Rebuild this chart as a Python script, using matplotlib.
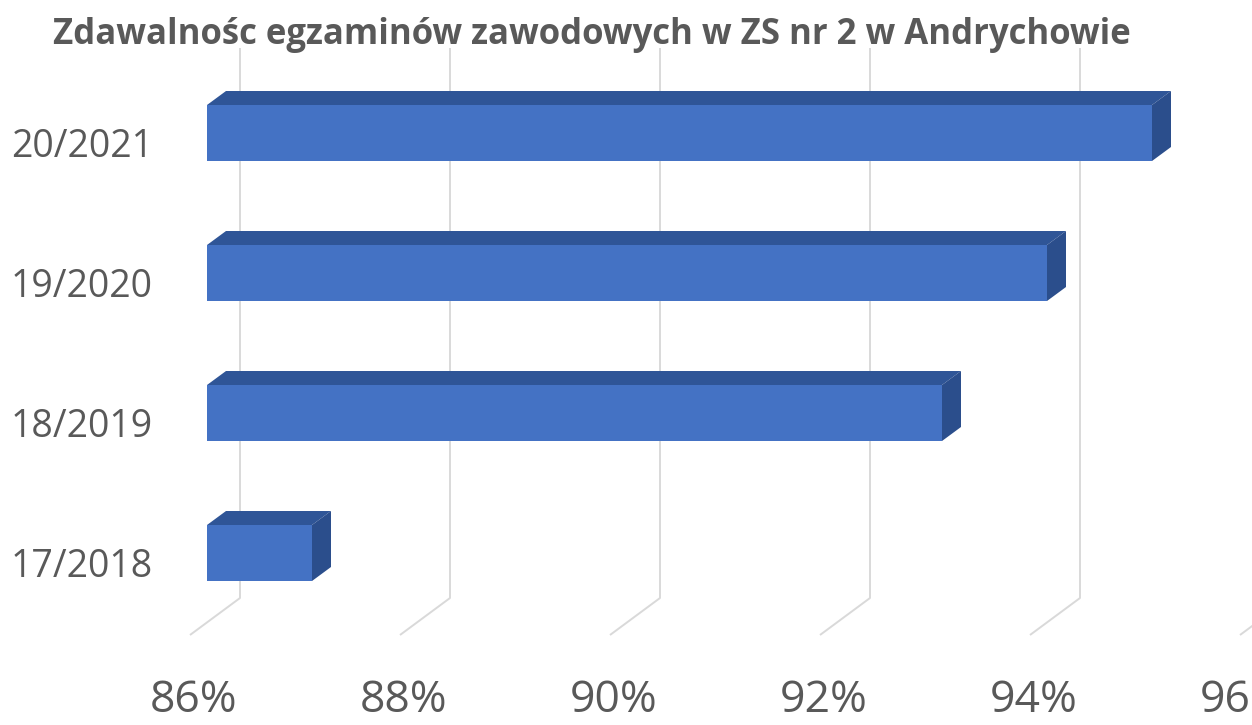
import numpy as np
import matplotlib
matplotlib.use("Agg")
import matplotlib.pyplot as plt
from matplotlib.patches import Polygon

# data
categories = ["17/2018", "18/2019", "19/2020", "20/2021"]
values = [87, 93, 94, 95]
ticks = [86, 88, 90, 92, 94, 96]
tick_labels = ["86%", "88%", "90%", "92%", "94%", "96%"]
title = "Zdawalnośc egzaminów zawodowych w ZS nr 2 w Andrychowie"

BASE = 86
FRONT = "#4472C4"
TOP = "#2F5597"
SIDE = "#2B4E8C"
GRID = "#D9D9D9"
TEXT = "#595959"

W, H = 1252, 725
fig = plt.figure(figsize=(W / 100, H / 100), dpi=100)
ax = fig.add_axes([0, 0, 1, 1])
ax.set_xlim(BASE - 207 / 105, BASE + (W - 207) / 105)
ax.set_ylim((553 - H) / 140, 553 / 140)
ax.axis("off")

# oblique depth offsets (value units / category units)
bar_dx, bar_dy = 19 / 105, 0.1
back_dx, front_dx = 33 / 105, -17 / 105
y_top, y_back_bot, y_front_bot = (553 - 48) / 140, (553 - 598) / 140, (553 - 635) / 140

# gridlines: back wall vertical + floor slant
for t in ticks:
    ax.plot([t + back_dx, t + back_dx, t + front_dx],
            [y_top, y_back_bot, y_front_bot],
            color=GRID, lw=1.4, zorder=1, solid_capstyle="butt")

pos = np.arange(len(categories))
h = 0.4
ax.barh(pos, np.array(values) - BASE, left=BASE, height=h,
        color=FRONT, edgecolor="none", zorder=3)
for y, v in zip(pos, values):
    top = [(BASE, y + h / 2), (v, y + h / 2),
           (v + bar_dx, y + h / 2 + bar_dy), (BASE + bar_dx, y + h / 2 + bar_dy)]
    side = [(v, y - h / 2), (v, y + h / 2),
            (v + bar_dx, y + h / 2 + bar_dy), (v + bar_dx, y - h / 2 + bar_dy)]
    ax.add_patch(Polygon(top, closed=True, facecolor=TOP, edgecolor="none", zorder=3))
    ax.add_patch(Polygon(side, closed=True, facecolor=SIDE, edgecolor="none", zorder=3))

# category labels
for y, c in zip(pos, categories):
    ax.text(BASE + (153 - 207) / 105, y - 0.1, c, ha="right", va="center",
            fontsize=27, color=TEXT, family="Open Sans")

# value tick labels (the last one runs off the right edge, as in the original)
for t, lab in zip(ticks, tick_labels):
    ax.text(t - 13 / 105, (553 - 701) / 140, lab, ha="center", va="center",
            fontsize=32, color=TEXT, family="Open Sans", clip_on=False)

fig.text(592 / W, 1 - 35 / H, title, ha="center", va="center",
         fontsize=25, fontweight="bold", color=TEXT, family="Open Sans")

fig.savefig("out.png", dpi=100, facecolor="white")
